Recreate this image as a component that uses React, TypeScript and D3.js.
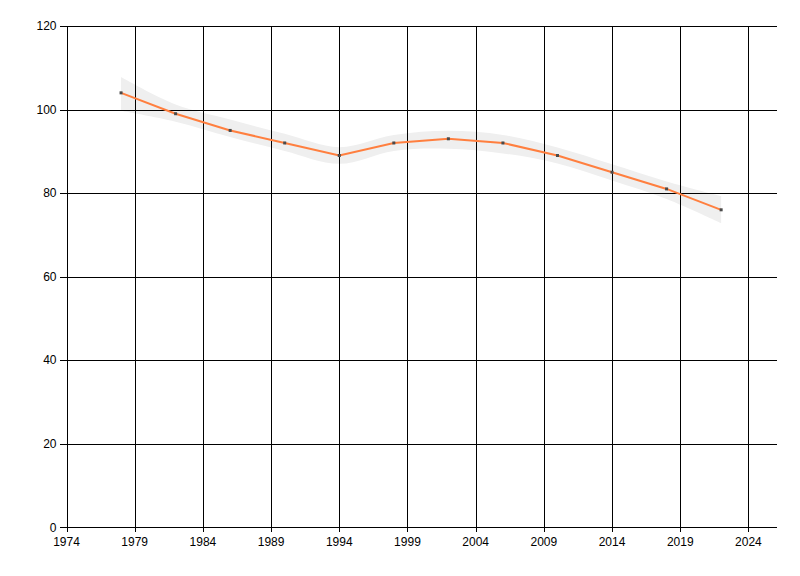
import React from "react";
import * as d3 from "d3";

const years = [1978, 1982, 1986, 1990, 1994, 1998, 2002, 2006, 2010, 2014, 2018, 2022];
const values = [104, 99, 95, 92, 89, 92, 93, 92, 89, 85, 81, 76];
const bandUpper = [107.8, 101.2, 97.6, 94.2, 91, 93.9, 94.9, 93.9, 90.9, 86.9, 82.8, 79.3];
const bandLower = [99.7, 97.1, 93.4, 90.1, 87, 90.1, 90.6, 89.5, 87.1, 83, 78.6, 72.8];
const xTicks = [1974, 1979, 1984, 1989, 1994, 1999, 2004, 2009, 2014, 2019, 2024];
const yTicks = [0, 20, 40, 60, 80, 100, 120];

const W = 800;
const H = 576;
const left = 66.5;
const right = 775.7;
const top = 26;
const bottom = 527.3;

export default function App() {
  const x = d3.scaleLinear().domain([1974, 2026]).range([left, right]);
  const y = d3.scaleLinear().domain([0, 120]).range([bottom, top]);
  const px = (v: number) => Math.round(v) + 0.5;

  const data = years.map((yr, i) => ({ yr, v: values[i], u: bandUpper[i], l: bandLower[i] }));
  const area = d3
    .area<any>()
    .x((d) => x(d.yr))
    .y0((d) => y(d.l))
    .y1((d) => y(d.u))
    .curve(d3.curveCatmullRom.alpha(0.5));
  const line = d3
    .line<any>()
    .x((d) => x(d.yr))
    .y((d) => y(d.v));

  const font = "'Liberation Sans Narrow', 'Liberation Sans', Arial, sans-serif";
  const gx0 = px(x(1974));
  const gy0 = px(y(0));

  return (
    <div style={{ position: "fixed", left: 0, top: 0 }}>
      <svg width={W} height={H} style={{ display: "block", background: "#fff" }}>
        <path d={area(data) || ""} fill="#efefef" />
        <g shapeRendering="crispEdges" stroke="#000" strokeWidth={1}>
          {xTicks.map((t) => (
            <line key={"gx" + t} x1={px(x(t))} x2={px(x(t))} y1={px(y(120))} y2={gy0 + 4} />
          ))}
          {yTicks.map((t) => (
            <line key={"gy" + t} x1={gx0 - 8} x2={px(right)} y1={px(y(t))} y2={px(y(t))} />
          ))}
        </g>
        <path d={line(data) || ""} fill="none" stroke="#ff7f3f" strokeWidth={2} />
        {data.map((d) => (
          <rect key={d.yr} x={x(d.yr) - 1.5} y={y(d.v) - 1.5} width={3} height={3} fill="#4a4a4a" />
        ))}
        <g fontFamily={font} fontSize={12} fill="#000">
          {yTicks.map((t) => (
            <text key={"ly" + t} x={gx0 - 11} y={y(t)} dy="0.35em" textAnchor="end">
              {t}
            </text>
          ))}
          {xTicks.map((t) => (
            <text key={"lx" + t} x={x(t)} y={gy0 + 18} textAnchor="middle">
              {t}
            </text>
          ))}
        </g>
      </svg>
    </div>
  );
}
